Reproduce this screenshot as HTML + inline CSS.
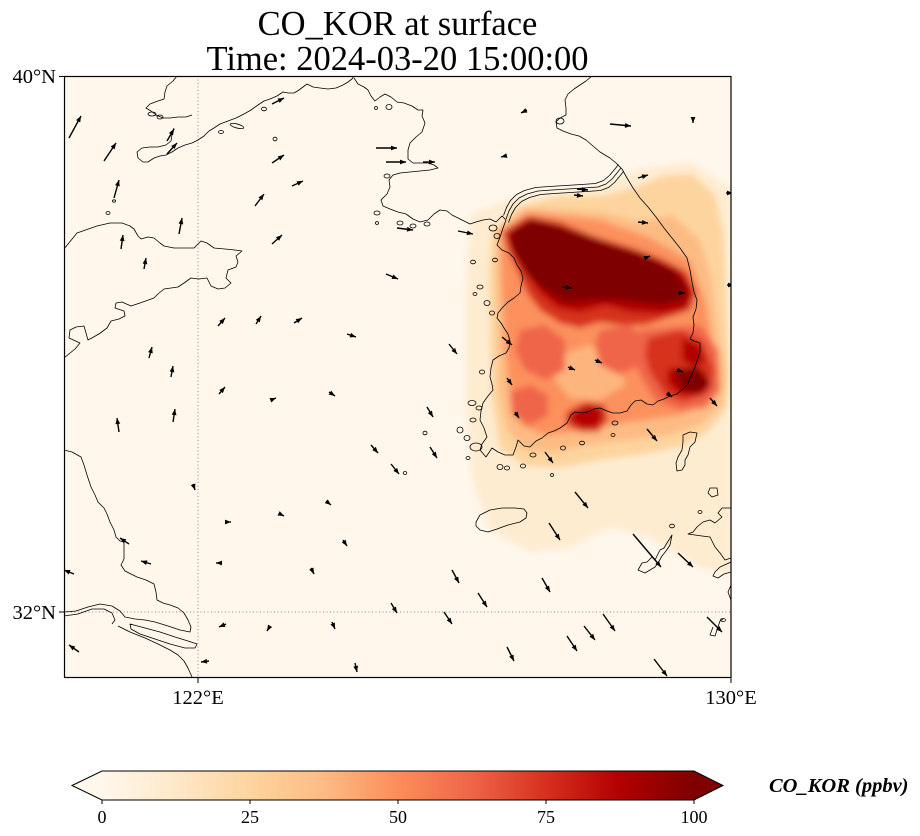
<!DOCTYPE html>
<html>
<head>
<meta charset="utf-8">
<style>
html,body{margin:0;padding:0;background:#fff;}
svg{display:block;}
</style>
</head>
<body>
<svg width="920" height="836" viewBox="0 0 920 836" xmlns="http://www.w3.org/2000/svg">
<defs>
  <clipPath id="mapclip"><rect x="64" y="76" width="667" height="602"/></clipPath>
  <filter id="blur" x="-10%" y="-10%" width="120%" height="120%"><feGaussianBlur stdDeviation="3.2"/></filter>
  <linearGradient id="cb" x1="0" y1="0" x2="1" y2="0">
    <stop offset="0" stop-color="#fff7ec"/>
    <stop offset="0.125" stop-color="#fee8c8"/>
    <stop offset="0.25" stop-color="#fdd49e"/>
    <stop offset="0.375" stop-color="#fdbb84"/>
    <stop offset="0.5" stop-color="#fc8d59"/>
    <stop offset="0.625" stop-color="#ef6548"/>
    <stop offset="0.75" stop-color="#d7301f"/>
    <stop offset="0.875" stop-color="#b30000"/>
    <stop offset="1" stop-color="#7f0000"/>
  </linearGradient>
  <marker id="ah" markerUnits="userSpaceOnUse" markerWidth="8" markerHeight="7" refX="6" refY="3" orient="auto" overflow="visible">
    <path d="M0,0.6 L6,3 L0,5.4 Z" fill="#000" stroke="none"/>
  </marker>
</defs>

<g font-family="'Liberation Serif', serif" fill="#000" text-anchor="middle" font-size="34.5">
  <text x="397.5" y="35">CO_KOR at surface</text>
  <text x="397.5" y="70">Time: 2024-03-20 15:00:00</text>
</g>

<rect x="64" y="76" width="667" height="602" fill="#fff7ec"/>

<g clip-path="url(#mapclip)">
<g filter="url(#blur)">
  <polygon fill="#fee8c8" opacity="0.75" points="470,215 520,195 590,190 640,168 690,162 731,188 731,575 700,568 650,538 610,528 570,548 530,552 490,530 472,482 465,400 465,300"/>
  <polygon fill="#fdd49e" points="492,232 518,207 560,196 600,196 635,188 662,176 692,174 715,195 724,235 726,290 728,340 731,380 726,410 708,432 680,447 640,455 600,460 560,468 525,466 500,448 492,400 490,330 489,270"/>
  <polygon fill="#fdbb84" points="497,230 525,208 600,212 640,222 672,215 700,240 712,280 718,330 725,370 722,405 700,425 670,435 630,440 590,445 555,452 525,450 507,430 499,390 498,330 496,280"/>
  <polygon fill="#fc8d59" opacity="0.9" points="500,230 530,212 600,220 650,238 690,260 705,300 712,340 716,380 705,405 680,415 645,420 610,425 575,432 545,435 520,425 510,395 505,345 502,290"/>
  <polygon fill="#fdbb84" opacity="0.85" points="560,355 590,345 620,360 625,385 600,400 570,398 555,380"/>
  <polygon fill="#ef6548" points="520,330 545,325 565,340 565,370 545,380 525,370 515,350"/>
  <polygon fill="#ef6548" points="510,392 530,385 548,395 548,415 530,425 512,415"/>
  <polygon fill="#ef6548" points="600,330 630,325 645,340 640,365 620,375 600,365 595,345"/>
  <polygon fill="#ef6548" points="640,330 700,325 718,350 720,390 705,408 680,410 655,400 640,375 630,350"/>
  <polygon fill="#d7301f" points="503,232 527,216 560,222 593,236 627,246 660,258 687,272 696,293 690,310 672,316 645,325 620,325 600,322 580,328 560,323 540,310 527,293 518,272 508,250"/>
  <polygon fill="#d7301f" points="648,338 680,330 702,340 714,370 708,393 684,402 665,395 650,372 645,355"/>
  <polygon fill="#d7301f" points="566,412 585,402 605,405 608,420 598,432 580,432 566,424"/>
  <polygon fill="#b30000" points="506,234 525,222 580,236 640,252 680,270 694,292 686,310 660,314 630,312 605,305 580,312 558,308 540,293 525,272 512,252"/>
  <polygon fill="#b30000" points="682,338 700,345 705,360 695,368 682,360"/>
  <polygon fill="#b30000" points="668,368 700,368 712,385 700,396 680,395 667,383"/>
  <polygon fill="#b30000" points="572,413 590,405 602,410 600,425 585,428 572,422"/>
  <polygon fill="#7f0000" points="510,232 532,219 560,226 600,240 650,258 673,270 686,285 685,300 660,305 620,300 590,300 565,302 545,290 527,275 513,250"/>
  <polygon fill="#7f0000" points="675,370 700,368 710,383 698,392 682,390"/>
</g>
</g>

<g stroke="#888" stroke-width="1" stroke-dasharray="1,2.5" fill="none">
  <line x1="198" y1="76" x2="198" y2="678"/>
  <line x1="64" y1="612" x2="731" y2="612"/>
</g>

<g clip-path="url(#mapclip)" fill="none" stroke="#000" stroke-width="0.8" stroke-linejoin="round">
  <path d="M177,76 L173,81 L167,86 L165,92 L164,99 L158,101 L150,104 L146,108 L151,111 L156,115 L163,118 L170,118 L178,117 L186,117 L192,115"/>
  <ellipse cx="152" cy="114" rx="4" ry="2"/>
  <ellipse cx="160" cy="117" rx="3" ry="2"/>
  <path d="M174,128 L172,134 L171,141 L166,145 L158,147 L150,147 L142,148 L137,152 L138,158 L143,162 L148,162 L154,158 L160,156 L166,155 L172,152 L178,148 L185,145 L192,143 L198,140 L204,136 L209,131 L214,128 L220,124 L228,121 L236,118 L244,114 L251,110 L258,105 L264,101 L270,99 L277,96 L283,92 L288,93 L294,93 L299,90 L303,87 L307,84 L313,87 L320,88 L328,89 L336,88 L343,85 L348,82 L352,79 L354,76"/>
  <path d="M354,78 L358,84 L364,87 L368,90 L371,96 L375,101 L380,97 L385,94 L391,97 L397,102 L404,103 L412,106 L418,110 L423,110 L422,116 L425,123 L422,132 L416,137 L410,143 L408,150 L408,159 L413,163 L420,163 L428,163 L434,165 L438,168 L430,170 L420,171 L410,172 L400,173 L393,175 L389,180 L390,187 L387,194 L381,200 L383,206 L390,209 L398,212 L406,214 L413,219 L420,222 L428,220 L434,214 L440,210 L447,211 L452,215 L458,218 L464,221 L470,224 L476,222 L483,220 L490,219 L496,222 L502,216 L506,220 L503,228 L500,237 L497,245 L502,250 L509,253 L514,258 L517,265 L521,271 L523,278 L521,286 L520,293 L514,298 L508,302 L503,307 L498,313 L497,318 L501,323 L504,328 L508,334 L510,341 L509,348 L506,353 L499,356 L493,360 L491,368 L490,377 L492,384 L493,390 L488,396 L483,403 L481,411 L480,420 L484,428 L487,437 L482,444 L480,450 L486,457 L492,448 L498,452 L505,455 L513,455 L516,447 L518,440 L524,446 L530,447 L536,441 L542,438 L548,433 L554,431 L560,428 L567,423 L571,415 L575,412 L582,413 L588,412 L594,409 L600,408 L607,411 L613,413 L620,413 L627,411 L631,405 L635,401 L641,400 L647,404 L653,405 L658,401 L664,399 L670,396 L677,394 L683,389 L688,384 L690,378 L694,370 L697,361 L700,352 L700,343 L694,341 L690,339 L693,333 L694,325 L693,317 L696,309 L697,300 L694,292 L692,282 L690,270 L687,258 L680,248 L672,238 L664,228 L656,217 L648,207 L640,198 L633,188 L627,178 L622,169 L616,163 L610,158 L600,152 L593,146 L586,140 L579,136 L571,134 L563,131 L557,128 L556,122 L560,118 L566,115 L566,108 L565,100 L568,94 L574,89 L580,85 L586,81 L592,76"/>
  <path d="M506,219 L509,211 L513,204 L519,198 L527,194 L538,191 L552,190 L568,189 L584,188 L598,187 L606,184 L612,179 L617,173 L621,168"/>
  <path transform="translate(-2.5,-3.5)" d="M506,219 L509,211 L513,204 L519,198 L527,194 L538,191 L552,190 L568,189 L584,188 L598,187 L606,184 L612,179 L617,173 L621,168"/>
  <path transform="translate(2.5,3.5)" d="M506,219 L509,211 L513,204 L519,198 L527,194 L538,191 L552,190 L568,189 L584,188 L598,187 L606,184 L612,179 L617,173 L621,168"/>
  <path d="M64,249 L77,233 L97,226 L110,223 L122,223 L130,226 L134,229 L138,236 L141,239 L148,237 L154,238 L160,243 L164,246 L174,248 L185,248 L194,248 L198,244 L201,241 L207,243 L214,248 L225,249 L235,250 L242,251 L236,256 L238,262 L236,267 L228,270 L226,278 L231,283 L225,288 L218,289 L211,286 L207,278 L199,279 L191,278 L184,283 L178,287 L164,289 L158,294 L154,298 L140,303 L131,306 L122,302 L116,303 L115,308 L124,311 L125,316 L119,319 L111,321 L107,328 L99,334 L88,340 L86,333 L84,326 L76,327 L70,330 L69,338 L80,343 L75,349 L64,358"/>
  <path d="M64,450 L72,452 L81,457 L84,465 L87,475 L91,487 L95,495 L98,502 L104,508 L107,514 L110,522 L114,530 L116,537 L120,541 L124,542 L124,550 L124,559 L121,565 L125,571 L131,574 L137,577 L146,580 L154,584 L156,592 L157,600 L163,603 L170,605 L178,608 L184,613 L188,620 L191,627 L190,632 L180,630 L168,626 L155,622 L145,620 L135,619 L125,617 L120,611 L112,606 L100,604 L88,607 L76,611 L64,612"/>
  <path d="M64,616 L78,614 L92,609 L104,609 L112,613 L115,620 L112,624"/>
  <path d="M130,624 L145,628 L160,632 L175,637 L188,641 L197,644 L195,648 L185,648 L170,644 L155,639 L140,634 L131,629 Z"/>
  <path d="M118,626 L130,632 L145,638 L158,644 L170,650 L178,655 L184,661 L188,668 L192,677"/>
  <ellipse cx="237" cy="126" rx="7" ry="2" transform="rotate(15 237 126)"/>
  <ellipse cx="221" cy="132" rx="2.5" ry="1.5"/>
  <ellipse cx="264" cy="109" rx="2.5" ry="1.8"/>
  <ellipse cx="275" cy="139" rx="2" ry="1.8"/>
  <ellipse cx="389" cy="107" rx="3" ry="2.5"/>
  <ellipse cx="376" cy="108" rx="1.5" ry="1.5"/>
  <ellipse cx="387" cy="176" rx="3" ry="2"/>
  <ellipse cx="377" cy="213" rx="3" ry="2"/>
  <ellipse cx="377" cy="223" rx="1.5" ry="1.5"/>
  <ellipse cx="114" cy="201" rx="1.5" ry="1.2"/>
  <ellipse cx="108" cy="213" rx="2" ry="1.5"/>
  <ellipse cx="560" cy="121" rx="4" ry="3"/>
  <ellipse cx="400" cy="223" rx="3" ry="2"/>
  <ellipse cx="413" cy="226" rx="3" ry="2"/>
  <ellipse cx="427" cy="224" rx="3" ry="2"/>
  <ellipse cx="493" cy="228" rx="4" ry="3"/>
  <ellipse cx="497" cy="236" rx="3" ry="2.5"/>
  <ellipse cx="473" cy="262" rx="2.5" ry="1.8"/>
  <ellipse cx="495" cy="260" rx="2.5" ry="1.8"/>
  <ellipse cx="480" cy="287" rx="3" ry="2"/>
  <ellipse cx="475" cy="294" rx="2" ry="1.5"/>
  <ellipse cx="487" cy="303" rx="3" ry="2.5"/>
  <ellipse cx="492" cy="313" rx="2.5" ry="2"/>
  <ellipse cx="482" cy="372" rx="2.5" ry="2"/>
  <ellipse cx="472" cy="403" rx="4" ry="2.5"/>
  <ellipse cx="479" cy="408" rx="3" ry="2"/>
  <ellipse cx="473" cy="420" rx="3" ry="2"/>
  <ellipse cx="460" cy="430" rx="3" ry="3"/>
  <ellipse cx="467" cy="438" rx="3" ry="2.5"/>
  <ellipse cx="476" cy="447" rx="6" ry="4"/>
  <ellipse cx="468" cy="458" rx="2" ry="1.5"/>
  <ellipse cx="500" cy="467" rx="3" ry="2.5"/>
  <ellipse cx="507" cy="468" rx="2.5" ry="2"/>
  <ellipse cx="523" cy="466" rx="2.5" ry="2"/>
  <ellipse cx="533" cy="455" rx="3" ry="2"/>
  <ellipse cx="563" cy="448" rx="2.5" ry="2"/>
  <ellipse cx="582" cy="443" rx="2.5" ry="1.8"/>
  <ellipse cx="613" cy="435" rx="2" ry="1.5"/>
  <ellipse cx="615" cy="423" rx="3" ry="2"/>
  <ellipse cx="425" cy="433" rx="2" ry="1.8"/>
  <ellipse cx="405" cy="473" rx="1.8" ry="1.5"/>
  <ellipse cx="552" cy="475" rx="1.5" ry="1.5"/>
  <path d="M476,522 L480,515 L490,510 L502,508 L515,508 L524,509 L527,513 L526,518 L520,522 L508,525 L497,529 L488,532 L480,530 L476,526 Z"/>
  <path d="M683,435 L690,432 L697,433 L695,442 L690,447 L688,455 L685,460 L685,465 L682,470 L677,471 L676,463 L678,457 L682,450 L683,442 Z"/>
  <path d="M710,488 L717,488 L718,495 L712,497 L708,493 Z"/>
  <ellipse cx="672" cy="526" rx="2.5" ry="1.8"/>
  <ellipse cx="700" cy="512" rx="2" ry="1.5"/>
  <path d="M638,570 L642,563 L647,562 L652,557 L655,560 L660,550 L664,548 L667,543 L672,535 L670,545 L666,551 L662,556 L658,563 L655,567 L650,570 L645,573 Z"/>
  <path d="M731,508 L722,508 L718,513 L722,517 L715,523 L710,520 L703,522 L697,527 L693,532 L688,534 L695,535 L702,536 L710,537 L715,547 L720,553 L725,560 L731,558"/>
  <path d="M731,562 L720,567 L715,572 L713,576 L718,578 L724,574 L731,572"/>
  <path d="M731,585 L728,592 L731,600"/>
  <path d="M713,627 L710,635 L715,636 L718,627 L720,621 L723,619"/>
  <ellipse cx="723" cy="620" rx="2.5" ry="1.5"/>
</g>

<g clip-path="url(#mapclip)" stroke="#000" stroke-width="1.4" fill="none" marker-end="url(#ah)">
  <path d="M69,138 L81,116"/>
  <path d="M104,161 L116,143"/>
  <path d="M114,198 L119,180"/>
  <path d="M121,249 L123,235"/>
  <path d="M144,269 L146,258"/>
  <path d="M149,358 L152,347"/>
  <path d="M171,377 L173,366"/>
  <path d="M179,234 L182,218"/>
  <path d="M167,141 L174,129"/>
  <path d="M167,154 L177,143"/>
  <path d="M272,104 L284,98"/>
  <path d="M272,163 L284,155"/>
  <path d="M292,186 L303,181"/>
  <path d="M255,206 L264,194"/>
  <path d="M272,244 L282,235"/>
  <path d="M376,148 L397,148"/>
  <path d="M386,162 L406,162"/>
  <path d="M423,162 L435,162"/>
  <path d="M386,274 L398,279"/>
  <path d="M218,326 L225,318"/>
  <path d="M256,324 L261,316"/>
  <path d="M294,323 L302,318"/>
  <path d="M347,334 L356,337"/>
  <path d="M219,394 L225,387"/>
  <path d="M271,400 L276,398"/>
  <path d="M329,392 L335,396"/>
  <path d="M119,432 L117,418"/>
  <path d="M173,422 L175,409"/>
  <path d="M371,445 L378,453"/>
  <path d="M391,464 L399,474"/>
  <path d="M193,484 L195,490"/>
  <path d="M326,501 L331,505"/>
  <path d="M282,515 L284,516"/>
  <path d="M230,522 L231,522"/>
  <path d="M129,544 L120,538"/>
  <path d="M151,564 L141,561"/>
  <path d="M343,540 L347,546"/>
  <path d="M220,563 L216,563"/>
  <path d="M311,568 L314,574"/>
  <path d="M74,574 L64,570"/>
  <path d="M391,603 L397,613"/>
  <path d="M226,624 L219,627"/>
  <path d="M270,626 L267,631"/>
  <path d="M332,622 L335,629"/>
  <path d="M79,652 L69,645"/>
  <path d="M209,661 L201,662"/>
  <path d="M355,663 L357,672"/>
  <path d="M427,407 L433,417"/>
  <path d="M430,447 L437,458"/>
  <path d="M449,344 L457,354"/>
  <path d="M515,412 L519,418"/>
  <path d="M507,378 L512,385"/>
  <path d="M545,452 L553,463"/>
  <path d="M575,492 L588,508"/>
  <path d="M549,523 L560,540"/>
  <path d="M647,429 L657,441"/>
  <path d="M710,398 L717,406"/>
  <path d="M633,534 L661,567"/>
  <path d="M678,553 L693,567"/>
  <path d="M452,570 L459,583"/>
  <path d="M542,578 L550,592"/>
  <path d="M478,593 L487,607"/>
  <path d="M444,612 L452,624"/>
  <path d="M603,614 L615,631"/>
  <path d="M584,626 L595,640"/>
  <path d="M567,636 L577,651"/>
  <path d="M507,647 L514,661"/>
  <path d="M654,659 L667,676"/>
  <path d="M707,617 L722,632"/>
  <path d="M527,110 L521,113"/>
  <path d="M610,124 L631,126"/>
  <path d="M693,117 L693,123"/>
  <path d="M505,156 L501,157"/>
  <path d="M638,178 L648,175"/>
  <path d="M577,189 L588,190"/>
  <path d="M574,195 L583,196"/>
  <path d="M638,222 L648,223"/>
  <path d="M397,228 L413,230"/>
  <path d="M458,231 L473,234"/>
  <path d="M645,258 L650,256"/>
  <path d="M562,287 L572,288"/>
  <path d="M678,293 L685,293"/>
  <path d="M502,337 L512,345"/>
  <path d="M595,360 L602,363"/>
  <path d="M568,367 L575,370"/>
  <path d="M677,370 L683,372"/>
  <path d="M667,393 L672,397"/>
  <path d="M726,193 L733,193"/>
  <path d="M727,285 L734,285"/>
</g>

<rect x="64.5" y="76.5" width="666.5" height="601" fill="none" stroke="#000" stroke-width="1.2"/>

<g stroke="#000" stroke-width="1">
  <line x1="59" y1="76.5" x2="64" y2="76.5"/>
  <line x1="59" y1="612" x2="64" y2="612"/>
  <line x1="198" y1="678" x2="198" y2="683"/>
  <line x1="731" y1="678" x2="731" y2="683"/>
</g>
<g font-family="'Liberation Serif', serif" font-size="20.5" fill="#000">
  <text x="56" y="83" text-anchor="end">40°N</text>
  <text x="56" y="619" text-anchor="end">32°N</text>
  <text x="198" y="704" text-anchor="middle">122°E</text>
  <text x="731" y="704" text-anchor="middle">130°E</text>
</g>

<polygon points="72,785.5 102,771 102,800" fill="#fff7ec"/>
<polygon points="723,785.5 694,771 694,800" fill="#7f0000"/>
<rect x="102" y="771" width="592" height="29" fill="url(#cb)"/>
<polygon points="72,785.5 102,771 694,771 723,785.5 694,800 102,800" fill="none" stroke="#000" stroke-width="1"/>
<g stroke="#000" stroke-width="1">
  <line x1="102" y1="800" x2="102" y2="804"/>
  <line x1="250" y1="800" x2="250" y2="804"/>
  <line x1="398" y1="800" x2="398" y2="804"/>
  <line x1="546" y1="800" x2="546" y2="804"/>
  <line x1="694" y1="800" x2="694" y2="804"/>
</g>
<g font-family="'Liberation Serif', serif" font-size="18" fill="#000" text-anchor="middle">
  <text x="102" y="823">0</text>
  <text x="250" y="823">25</text>
  <text x="398" y="823">50</text>
  <text x="546" y="823">75</text>
  <text x="694" y="823">100</text>
</g>
<text x="769" y="792" font-family="'Liberation Serif', serif" font-size="20.5" font-weight="bold" font-style="italic" fill="#000">CO_KOR (ppbv)</text>
</svg>
</body>
</html>
